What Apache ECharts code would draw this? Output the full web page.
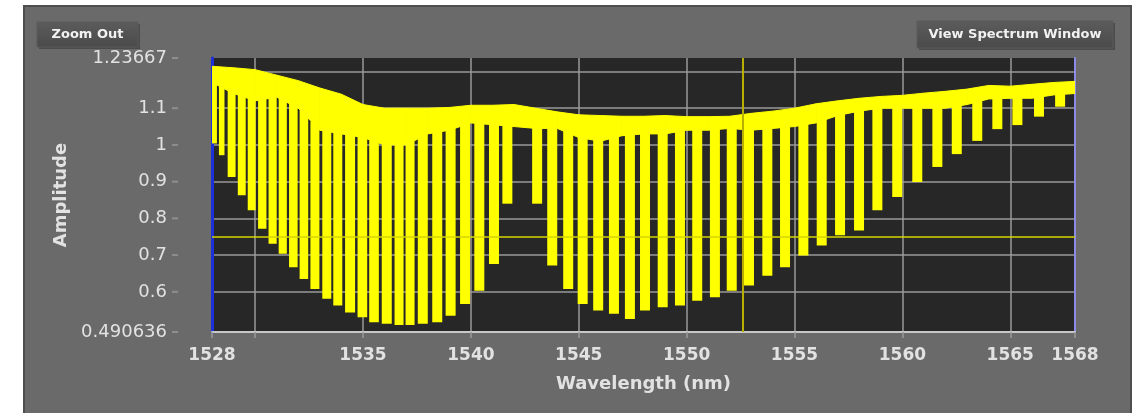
<!DOCTYPE html>
<html>
<head>
<meta charset="utf-8">
<script src="https://cdn.jsdelivr.net/npm/echarts@6/dist/echarts.min.js"></script>
<style>
  html, body { margin: 0; padding: 0; background: #ffffff; }
  #chart { width: 1143px; height: 413px; }
</style>
</head>
<body>
<div id="chart"></div>
<script>
// Upper band of the spectrum: peak level (top) and the level between dips (floor), in amplitude units
const bandWavelengths = [1528, 1529, 1530, 1531, 1532, 1533, 1534, 1535, 1536, 1537,
  1538, 1539, 1540, 1541, 1542, 1543, 1544, 1545, 1546, 1547,
  1548, 1549, 1550, 1551, 1552, 1553, 1554, 1555, 1556, 1557,
  1558, 1559, 1560, 1561, 1562, 1563, 1564, 1565, 1566, 1567, 1568];
const bandTop = [1.214, 1.210, 1.205, 1.190, 1.175, 1.155, 1.138, 1.110, 1.100, 1.100,
  1.100, 1.102, 1.108, 1.108, 1.110, 1.100, 1.090, 1.082, 1.080, 1.078,
  1.078, 1.080, 1.077, 1.077, 1.078, 1.086, 1.092, 1.100, 1.112, 1.120,
  1.127, 1.132, 1.135, 1.141, 1.146, 1.152, 1.162, 1.160, 1.165, 1.170, 1.173];
const bandFloor = [1.170, 1.140, 1.120, 1.130, 1.100, 1.040, 1.030, 1.020, 1.000, 1.000,
  1.030, 1.040, 1.060, 1.055, 1.050, 1.045, 1.045, 1.020, 1.010, 1.025,
  1.030, 1.030, 1.040, 1.040, 1.045, 1.040, 1.045, 1.050, 1.060, 1.080,
  1.092, 1.100, 1.100, 1.100, 1.100, 1.110, 1.125, 1.127, 1.127, 1.136, 1.140];

// Transmission dips: centre wavelength (nm) and minimum amplitude
const dipWavelengths = [1528.10, 1528.45, 1528.91, 1529.38, 1529.84, 1530.33, 1530.81, 1531.28, 1531.77, 1532.26,
  1532.77, 1533.32, 1533.83, 1534.40, 1534.97, 1535.51, 1536.10, 1536.67, 1537.18, 1537.77,
  1538.44, 1539.06, 1539.73, 1540.39, 1541.07, 1541.69, 1543.07, 1543.77, 1544.51, 1545.18,
  1545.90, 1546.63, 1547.37, 1548.07, 1548.89, 1549.69, 1550.49, 1551.31, 1552.09, 1552.89,
  1553.74, 1554.56, 1555.41, 1556.26, 1557.11, 1557.99, 1558.84, 1559.76, 1560.69, 1561.62,
  1562.52, 1563.47, 1564.40, 1565.33, 1566.33, 1567.31];
const dipMinima = [1.004, 0.972, 0.913, 0.863, 0.822, 0.772, 0.731, 0.704, 0.667, 0.635,
  0.608, 0.581, 0.563, 0.544, 0.531, 0.517, 0.513, 0.510, 0.510, 0.513,
  0.517, 0.535, 0.567, 0.603, 0.676, 0.840, 0.840, 0.672, 0.608, 0.567,
  0.549, 0.540, 0.526, 0.549, 0.558, 0.563, 0.576, 0.585, 0.603, 0.617,
  0.644, 0.667, 0.699, 0.726, 0.754, 0.767, 0.822, 0.858, 0.899, 0.940,
  0.975, 1.011, 1.043, 1.054, 1.077, 1.104];

// Axis ticks and labels
const xTickValues = [1528, 1530, 1535, 1540, 1545, 1550, 1555, 1560, 1565, 1568];
const xLabelValues = [1528, 1535, 1540, 1545, 1550, 1555, 1560, 1565, 1568];
const yTickValues = [0.490636, 0.6, 0.7, 0.8, 0.9, 1, 1.1, 1.2, 1.23667];
const yLabelValues = [0.490636, 0.6, 0.7, 0.8, 0.9, 1, 1.1, 1.23667];
const xMin = 1528, xMax = 1568;
const yMin = 0.490636, yMax = 1.23667;

// Cursor positions
const cursorWavelength = 1552.6;
const cursorAmplitude = 0.75;

const YELLOW = '#ffff00';
const LABEL = '#e2e2e2';
const FONT = 'DejaVu Sans';

// floor level of the band at an arbitrary wavelength (for joining dips to the band)
function floorAt(wl) {
  const n = bandWavelengths.length;
  if (wl <= bandWavelengths[0]) return bandFloor[0];
  for (let i = 1; i < n; i++) {
    if (wl <= bandWavelengths[i]) {
      const t = (wl - bandWavelengths[i - 1]) / (bandWavelengths[i] - bandWavelengths[i - 1]);
      return bandFloor[i - 1] + t * (bandFloor[i] - bandFloor[i - 1]);
    }
  }
  return bandFloor[n - 1];
}

const chart = echarts.init(document.getElementById('chart'), null, { renderer: 'canvas' });

const band = bandWavelengths.map((w, i) => [w, bandTop[i], bandFloor[i]]);
const dips = dipWavelengths.map((w, i) => [w, dipMinima[i]]);

function button(x, y, w, h, text) {
  return {
    type: 'group',
    z: -5,
    children: [
      {
        type: 'rect',
        shape: { x: x + 2, y: y + 2, width: w, height: h },
        style: { fill: 'rgba(40,40,40,0.45)' }
      },
      {
        type: 'rect',
        shape: { x: x, y: y, width: w, height: h },
        style: {
          fill: new echarts.graphic.LinearGradient(0, 0, 0, 1, [
            { offset: 0, color: '#5c5c5c' },
            { offset: 1, color: '#4a4a4a' }
          ]),
          stroke: '#5a5a5a',
          lineWidth: 1
        }
      },
      {
        type: 'text',
        style: {
          x: x + w / 2,
          y: y + h / 2,
          text: text,
          align: 'center',
          verticalAlign: 'middle',
          fill: '#f2f2f2',
          fontFamily: FONT,
          fontWeight: 'bold',
          fontSize: 13
        }
      }
    ]
  };
}

const option = {
  animation: false,
  backgroundColor: '#ffffff',
  graphic: [
    {
      type: 'rect',
      z: -10,
      shape: { x: 24, y: 6, width: 1107, height: 420 },
      style: { fill: '#6a6a6a', stroke: '#4e4e4e', lineWidth: 2 }
    },
    button(37, 22, 101, 25, 'Zoom Out'),
    button(917, 21, 196, 27, 'View Spectrum Window')
  ],
  grid: {
    left: 212,
    top: 58,
    width: 863,
    height: 274,
    show: true,
    backgroundColor: '#272727',
    borderWidth: 0
  },
  xAxis: {
    type: 'value',
    min: xMin,
    max: xMax,
    name: 'Wavelength (nm)',
    nameLocation: 'middle',
    nameGap: 43,
    nameTextStyle: { color: LABEL, fontFamily: FONT, fontWeight: 'bold', fontSize: 18 },
    axisLine: { show: true, onZero: false, lineStyle: { color: '#c8c8c8', width: 2 } },
    axisTick: { show: true, length: 6, customValues: xTickValues, lineStyle: { color: '#9a9a9a', width: 1.5 } },
    axisLabel: {
      customValues: xLabelValues,
      margin: 15,
      formatter: v => String(v),
      color: LABEL,
      fontFamily: FONT,
      fontWeight: 'bold',
      fontSize: 17
    },
    splitLine: { show: true, lineStyle: { color: '#9a9a9a', width: 1.5 } }
  },
  yAxis: [
    {
      type: 'value',
      min: yMin,
      max: yMax,
      name: 'Amplitude',
      nameLocation: 'middle',
      nameGap: 142,
      nameTextStyle: { color: LABEL, fontFamily: FONT, fontWeight: 'bold', fontSize: 18 },
      axisLine: { show: true, lineStyle: { color: '#1d2fd6', width: 3 } },
      axisTick: { show: false, customValues: yTickValues },
      axisLabel: {
        customValues: yLabelValues,
        margin: 34,
        formatter: v => '{v|' + v + '}{g|}{t|}',
        rich: {
          v: { color: LABEL, fontFamily: FONT, fontSize: 18 },
          g: { width: 5, height: 2 },
          t: { width: 6, height: 2, backgroundColor: '#8e8e8e', verticalAlign: 'middle' }
        }
      },
      splitLine: { show: true, showMaxLine: false, showMinLine: false, lineStyle: { color: '#9a9a9a', width: 1.5 } }
    },
    {
      type: 'value',
      min: yMin,
      max: yMax,
      position: 'right',
      axisLine: { show: true, lineStyle: { color: '#8c8ce8', width: 2 } },
      axisTick: { show: false },
      axisLabel: { show: false },
      splitLine: { show: false }
    }
  ],
  series: [
    {
      // cursor lines, kept beneath the trace
      type: 'line',
      z: 1,
      data: [],
      silent: true,
      markLine: {
        silent: true,
        symbol: 'none',
        label: { show: false },
        animation: false,
        data: [
          { xAxis: cursorWavelength, lineStyle: { color: '#b8b000', width: 2, type: 'solid' } },
          { yAxis: cursorAmplitude, lineStyle: { color: '#d6d600', width: 1.5, type: 'solid' } }
        ]
      }
    },
    {
      // upper band: one quad between each pair of neighbouring samples
      name: 'band',
      type: 'custom',
      z: 3,
      clip: true,
      silent: true,
      data: band,
      renderItem: function (params, api) {
        const i = params.dataIndex;
        if (i >= band.length - 1) return null;
        const a = band[i], b = band[i + 1];
        const pts = [
          api.coord([a[0], a[1]]),
          api.coord([b[0], b[1]]),
          api.coord([b[0], b[2]]),
          api.coord([a[0], a[2]])
        ];
        return {
          type: 'polygon',
          shape: { points: pts },
          style: { fill: YELLOW, stroke: YELLOW, lineWidth: 1 }
        };
      }
    },
    {
      name: 'dips',
      type: 'custom',
      z: 3,
      clip: true,
      silent: true,
      data: dips,
      renderItem: function (params, api) {
        const i = params.dataIndex;
        const wl = api.value(0);
        const depth = api.value(1);
        let gap = Infinity;
        if (i > 0) gap = Math.min(gap, wl - dipWavelengths[i - 1]);
        if (i < dipWavelengths.length - 1) gap = Math.min(gap, dipWavelengths[i + 1] - wl);
        const gapPx = api.size([gap, 0])[0];
        const w = Math.max(3, Math.min(10, gapPx - 2));
        const bottom = api.coord([wl, depth]);
        const top = api.coord([wl, floorAt(wl) + 0.01]);
        return {
          type: 'rect',
          shape: { x: bottom[0] - w / 2, y: top[1], width: w, height: bottom[1] - top[1] },
          style: { fill: YELLOW }
        };
      }
    }
  ]
};

chart.setOption(option);
</script>
</body>
</html>
